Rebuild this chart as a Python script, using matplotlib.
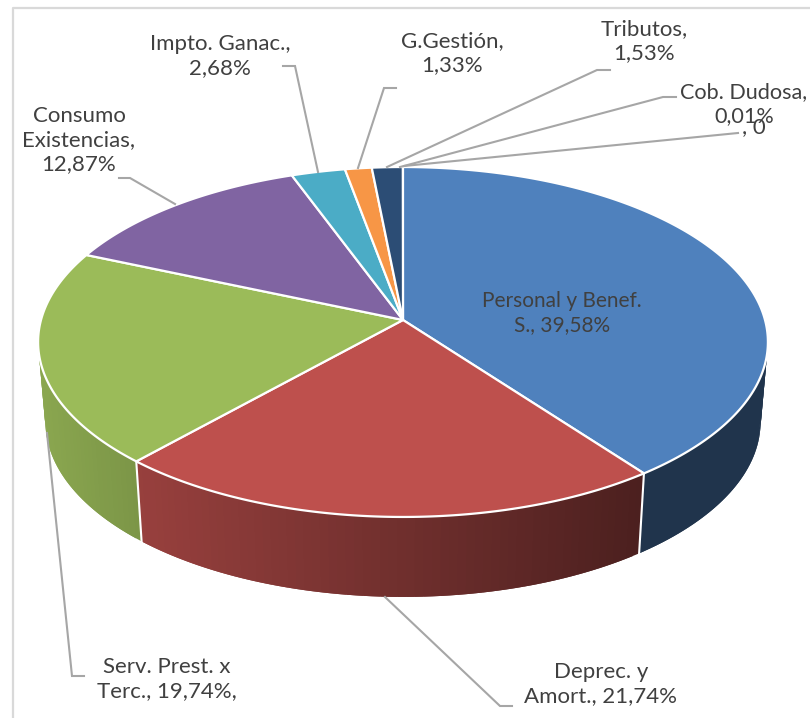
import numpy as np
import matplotlib
matplotlib.use("Agg")
import matplotlib.pyplot as plt
from matplotlib.colors import to_rgb

categories = ["Personal y Benef.", "Deprec. y Amort.", "Serv. Prest. x Terc.",
              "Consumo Existencias", "Impto. Ganac.", "G.Gestión", "Tributos",
              "Cob. Dudosa", "Otros"]
values = [39.58, 21.74, 19.74, 12.87, 2.68, 1.33, 1.53, 0.01, 0.0]
colors = ["#4F81BD", "#BE504D", "#9BBB59", "#8064A2", "#4BACC6",
          "#F79646", "#2C4D75", "#7F9FCB", "#A5B6D3"]

labels = [
    ("Personal y Benef.\nS., 39,58%", 562, 313, 15),
    ("Deprec. y\nAmort., 21,74%", 601, 684, 16),
    ("Serv. Prest. x\nTerc., 19,74%,", 167, 679, 16),
    ("Consumo\nExistencias,\n12,87%", 79, 140, 16),
    ("Impto. Ganac.,\n2,68%", 220, 56, 16),
    ("G.Gestión,\n1,33%", 452, 53, 16),
    ("Tributos,\n1,53%", 644, 41, 16),
    ("Cob. Dudosa,\n0,01%", 744, 104, 15.6),
    (", 0", 754, 127, 16),
]
leaders = [
    [(385, 597), (500, 706), (512, 706)],
    [(47, 433), (72, 676), (84, 676)],
    [(175, 204), (130, 178), (119, 178)],
    [(318, 172), (295, 66), (283, 66)],
    [(358, 168), (384, 88), (396, 88)],
    [(387, 167), (597, 70), (610, 70)],
    [(400, 167), (663, 97), (676, 97)],
    [(404, 166), (738, 133)],
]

CX, CY, A, B, K = 403.0, 320.0, 362.0, 172.2, 0.1257
DEPTH, SHRINK = 80.0, 0.98


def top(frac):
    t = 2 * np.pi * np.asarray(frac)
    u, v = np.sin(t), np.cos(t)
    d = 1 + K * v
    return CX + A * u / d, CY - B * v / d


def bottom(x, y):
    return CX + SHRINK * (x - CX), y + DEPTH


def shade(base, x):
    f = np.interp(x, [40, 135, 640, 768], [0.89, 0.80, 0.40, 0.40])
    return tuple(c * f for c in to_rgb(base))


fig = plt.figure(figsize=(8.1, 7.18), dpi=100)
ax = fig.add_axes([0, 0, 1, 1])
ax.set_xlim(0, 810)
ax.set_ylim(718, 0)
ax.axis("off")

ax.plot([13, 13, 810], [718, 8, 8], color="#D9D9D9", lw=1.6, zorder=0)

total = sum(values)
edges = np.concatenate([[0], np.cumsum(values)]) / total

# Side walls: overlapping strips so the gradient has no seams
for i, col in enumerate(colors):
    a, b = edges[i], edges[i + 1]
    if b <= a:
        continue
    n = max(3, int((b - a) * 300))
    fr = np.linspace(a, b, n + 1)
    xs, ys = top(fr)
    xb, yb = bottom(xs, ys)
    for j in range(n):
        k = min(j + 2, n)
        c = shade(col, (xs[j] + xs[j + 1]) / 2)
        ax.fill([xs[j], xs[k], xb[k], xb[j]],
                [ys[j], ys[k], yb[k], yb[j]],
                facecolor=c, edgecolor="none", zorder=2 + j * 1e-4)

# White separators on the front wall
for e in edges[1:3]:
    x0, y0 = top(e)
    x1, y1 = bottom(x0, y0)
    ax.plot([x0, x1], [y0, y1], color="white", lw=1.5, zorder=3)

# Top faces
for i, col in enumerate(colors):
    a, b = edges[i], edges[i + 1]
    if b <= a:
        continue
    fr = np.linspace(a, b, max(3, int((b - a) * 720)))
    xs, ys = top(fr)
    ax.fill(np.r_[CX, xs], np.r_[CY, ys], facecolor=col, edgecolor="white",
            lw=1.6 if b - a > 0.001 else 0.6, joinstyle="round", zorder=4)

# Leader lines
for pts in leaders:
    ax.plot(*zip(*pts), color="#A6A6A6", lw=1.5, zorder=5, solid_joinstyle="miter")

# Labels
for txt, x, y, size in labels:
    ax.text(x, y, txt, ha="center", va="center", family="Lato", fontsize=size,
            color="#404040", linespacing=1.28, zorder=6)

fig.savefig("out.png", dpi=100)
